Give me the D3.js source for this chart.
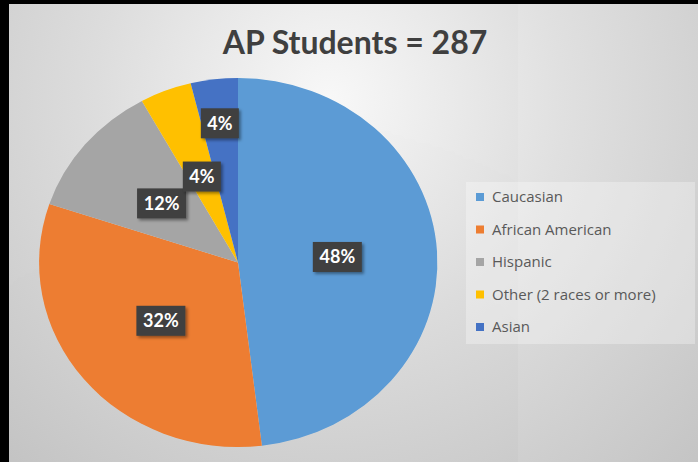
<!DOCTYPE html>
<html lang="en">
<head>
    <meta charset="utf-8">
    <title>AP Students pie</title>
    <script src="https://d3js.org/d3.v7.min.js"></script>
    <style type="text/css">
        body { margin: 0; background: #000; }
        svg { display: block; }
    </style>
</head>
<body>
    <script type="text/javascript">

        // data (counts add to 287)
        var categories = ["Caucasian", "African American", "Hispanic", "Other (2 races or more)", "Asian"];
        var counts = [138, 92, 34, 12, 11];
        var colors = ["#5B9BD5", "#ED7D31", "#A5A5A5", "#FFC000", "#4472C4"];
        var title = "AP Students = 287";

        var w = 698;
        var h = 462;
        var cx = 238, cy = 262.5;
        var rx = 199, ry = 184.5;

        var svg = d3.select("body")
            .append("svg")
            .attr("width", w)
            .attr("height", h);

        var defs = svg.append("defs");
        var grad = defs.append("radialGradient")
            .attr("id", "bg")
            .attr("gradientUnits", "userSpaceOnUse")
            .attr("cx", 330).attr("cy", 100).attr("r", 520);
        grad.append("stop").attr("offset", "0%").attr("stop-color", "#fbfbfb");
        grad.append("stop").attr("offset", "45%").attr("stop-color", "#e0e0e0");
        grad.append("stop").attr("offset", "100%").attr("stop-color", "#c4c4c4");

        var pieShadow = defs.append("filter").attr("id", "pieShadow")
            .attr("x", "-20%").attr("y", "-20%").attr("width", "140%").attr("height", "140%");
        pieShadow.append("feDropShadow")
            .attr("dx", 0).attr("dy", 2).attr("stdDeviation", 5)
            .attr("flood-color", "#000").attr("flood-opacity", 0.35);

        var boxShadow = defs.append("filter").attr("id", "boxShadow")
            .attr("x", "-30%").attr("y", "-30%").attr("width", "160%").attr("height", "160%");
        boxShadow.append("feDropShadow")
            .attr("dx", 2).attr("dy", 2).attr("stdDeviation", 1.5)
            .attr("flood-color", "#000").attr("flood-opacity", 0.4);

        // chart area (black frame shows on the left and top)
        svg.append("rect")
            .attr("x", 9).attr("y", 4)
            .attr("width", w - 9).attr("height", h - 4)
            .attr("fill", "url(#bg)");

        svg.append("text")
            .attr("x", 355)
            .attr("y", 54)
            .attr("text-anchor", "middle")
            .attr("font-family", "Lato, 'Open Sans', sans-serif")
            .attr("font-weight", "bold")
            .attr("font-size", 32)
            .attr("fill", "#404040")
            .text(title);

        var pie = d3.pie().sort(null).value(function (d) { return d; });
        var arcs = pie(counts);
        var total = d3.sum(counts);

        // unit circle arc, stretched into the ellipse of the picture
        var arc = d3.arc().innerRadius(0).outerRadius(1);

        var g = svg.append("g")
            .attr("transform", "translate(" + cx + "," + cy + ")");

        g.append("g")
            .attr("filter", "url(#pieShadow)")
            .attr("transform", "scale(" + rx + "," + ry + ")")
            .selectAll("path")
            .data(arcs)
            .enter()
            .append("path")
            .attr("d", arc)
            .attr("fill", function (d, i) { return colors[i]; });

        // data labels: near the middle of each slice, pushed outward when they collide
        var placed = [];
        arcs.forEach(function (d, i) {
            var pct = Math.round(d.value / total * 100) + "%";
            var a = (d.startAngle + d.endAngle) / 2;
            var bw = pct.length > 2 ? 49 : 38;
            var bh = 30;
            var k = 0.5;
            var x, y;
            function pos() {
                x = Math.sin(a) * rx * k;
                y = -Math.cos(a) * ry * k;
            }
            pos();
            // a little overlap is allowed
            var hit = placed.some(function (p) {
                return Math.abs(p.x - x) < (p.w + bw) / 2 - 4 && Math.abs(p.y - y) < (p.h + bh) / 2 - 6;
            });
            if (hit) { k = 0.76; pos(); }
            placed.push({ x: x, y: y, w: bw, h: bh });

            var lg = g.append("g").attr("transform", "translate(" + x + "," + y + ")");
            lg.append("rect")
                .attr("x", -bw / 2).attr("y", -bh / 2)
                .attr("width", bw).attr("height", bh)
                .attr("fill", "#3f3f3f")
                .attr("filter", "url(#boxShadow)");
            lg.append("text")
                .attr("text-anchor", "middle")
                .attr("dy", "0.36em")
                .attr("font-family", "Lato, 'Open Sans', sans-serif")
                .attr("font-weight", "bold")
                .attr("font-size", 18)
                .attr("fill", "#fff")
                .text(pct);
        });

        // legend
        var legend = svg.append("g");
        legend.append("rect")
            .attr("x", 466).attr("y", 182)
            .attr("width", 229).attr("height", 162)
            .attr("fill", "#ffffff").attr("fill-opacity", 0.3);

        var ly = d3.scalePoint().domain(categories).range([197, 327]);

        var items = legend.selectAll("g.item")
            .data(categories)
            .enter()
            .append("g")
            .attr("class", "item")
            .attr("transform", function (d) { return "translate(476," + ly(d) + ")"; });
        items.append("rect")
            .attr("x", 0).attr("y", -4)
            .attr("width", 8).attr("height", 8)
            .attr("fill", function (d, i) { return colors[i]; });
        items.append("text")
            .attr("x", 16)
            .attr("dy", "0.35em")
            .attr("font-family", "'Open Sans', sans-serif")
            .attr("font-size", 15)
            .attr("fill", "#595959")
            .text(function (d) { return d; });
    </script>
</body>
</html>
